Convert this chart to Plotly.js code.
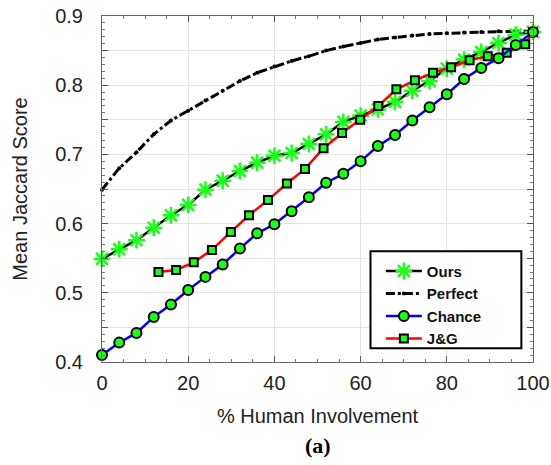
<!DOCTYPE html>
<html>
<head>
<meta charset="utf-8">
<script src="https://cdn.plot.ly/plotly-3.0.1.min.js"></script>
<style>html,body{margin:0;padding:0;background:#fff;}#chart{width:551px;height:465px;}</style>
</head>
<body>
<div id="chart"></div>
<script>
// x positions (% human involvement)
const xStep = [0,4,8,12,16,20,24,28,32,36,40,44,48,52,56,60,64,68,72,76,80,84,88,92,96,100];
const oursY = [0.549,0.563,0.576,0.594,0.612,0.627,0.649,0.662,0.676,0.688,0.698,0.702,0.715,0.729,0.747,0.756,0.765,0.776,0.792,0.806,0.824,0.837,0.848,0.861,0.873,0.877];
const perfectY = [0.649,0.680,0.703,0.729,0.749,0.763,0.778,0.792,0.806,0.818,0.827,0.835,0.842,0.850,0.856,0.861,0.866,0.869,0.872,0.874,0.875,0.876,0.877,0.878,0.878,0.878];
const chanceY = [0.410,0.428,0.442,0.465,0.483,0.504,0.523,0.541,0.564,0.586,0.599,0.618,0.638,0.659,0.672,0.690,0.712,0.728,0.749,0.768,0.787,0.809,0.825,0.839,0.858,0.877];
const jgX = [13.1,17.2,21.3,25.5,29.9,34.1,38.5,42.9,47.1,51.4,55.7,59.9,64.1,68.3,72.6,76.8,81.0,85.3,89.5,93.9,98.2,100];
const jgY = [0.530,0.533,0.544,0.562,0.588,0.612,0.634,0.658,0.679,0.709,0.731,0.750,0.770,0.794,0.807,0.818,0.826,0.836,0.842,0.847,0.859,0.877];

const xTicks = [0,20,40,60,80,100];
const yTickVals = [0.4,0.45,0.5,0.55,0.6,0.65,0.7,0.75,0.8,0.85,0.9];
const yTickText = ['0.4','','0.5','','0.6','','0.7','','0.8','','0.9'];

const green = '#1aff1a';
const traces = [
  {x: xStep, y: perfectY, name: 'Perfect', mode: 'lines+markers', legendrank: 2, cliponaxis: false,
   line: {color: '#000', width: 3, dash: 'dashdot'},
   marker: {color: '#000', size: 4, symbol: 'circle'}},
  {x: xStep, y: oursY, name: 'Ours', mode: 'lines+markers', legendrank: 1, cliponaxis: false,
   line: {color: '#000', width: 2.5},
   marker: {symbol: 'asterisk-open', size: 14, color: green, line: {color: green, width: 2.5}}},
  {x: jgX, y: jgY, name: 'J&G', mode: 'lines+markers', legendrank: 4, cliponaxis: false,
   line: {color: '#ff0000', width: 2.5},
   marker: {symbol: 'square', size: 8, color: green, line: {color: '#000', width: 2}}},
  {x: xStep, y: chanceY, name: 'Chance', mode: 'lines+markers', legendrank: 3, cliponaxis: false,
   line: {color: '#0000ff', width: 2.5},
   marker: {symbol: 'circle', size: 10, color: green, line: {color: '#000', width: 2}}}
];

const font = 'Liberation Sans, Arial, sans-serif';
const layout = {
  width: 551, height: 465,
  margin: {l: 102, r: 18, t: 16, b: 103},
  paper_bgcolor: '#fff', plot_bgcolor: '#fff',
  showlegend: true,
  font: {family: font, size: 20, color: '#222'},
  xaxis: {
    range: [0, 100], tickvals: xTicks, ticks: 'inside', ticklen: 6, tickcolor: '#555',
    showgrid: true, gridcolor: '#e3e3e3', gridwidth: 1, zeroline: false,
    showline: true, linecolor: '#666', linewidth: 1, mirror: 'ticks',
    tickfont: {family: font, size: 20, color: '#222'}, ticklabelstandoff: 3, ticklabeloverflow: 'allow',
    minor: {dtick: 5, ticks: 'inside', ticklen: 3, tickcolor: '#777', showgrid: false},
    title: {text: '% Human Involvement', font: {family: font, size: 20, color: '#222'}, standoff: 15}
  },
  yaxis: {
    range: [0.4, 0.9], tickvals: yTickVals, ticktext: yTickText, ticks: 'inside', ticklen: 6, tickcolor: '#555',
    showgrid: true, gridcolor: '#e3e3e3', gridwidth: 1, zeroline: false,
    showline: true, linecolor: '#666', linewidth: 1, mirror: 'ticks',
    tickfont: {family: font, size: 20, color: '#222'}, ticklabelstandoff: 14,
    minor: {dtick: 0.01, tick0: 0.4, ticks: 'inside', ticklen: 3, tickcolor: '#777', showgrid: false},
    title: {text: 'Mean Jaccard Score', font: {family: font, size: 20, color: '#222'}, standoff: 22}
  },
  legend: {
    x: 0.647, y: 0.31, xanchor: 'left', yanchor: 'top',
    bgcolor: 'rgba(0,0,0,0)', borderwidth: 0,
    font: {family: font, size: 15, color: '#111', weight: 'bold'},
    itemwidth: 36, tracegroupgap: 0
  },
  shapes: [{
    type: 'rect', xref: 'paper', yref: 'paper', layer: 'above',
    x0: 0.623, x1: 0.973, y0: 0.040, y1: 0.320,
    line: {color: '#000', width: 2}, fillcolor: '#fff'
  }],
  annotations: [{
    text: '<b>(a)</b>', xref: 'paper', yref: 'paper', x: 0.5, y: -0.24,
    xanchor: 'center', yanchor: 'middle', showarrow: false,
    font: {family: 'Liberation Serif, Times New Roman, serif', size: 22, color: '#000'}
  }]
};

Plotly.newPlot('chart', traces, layout, {displayModeBar: false, staticPlot: true});
</script>
</body>
</html>
